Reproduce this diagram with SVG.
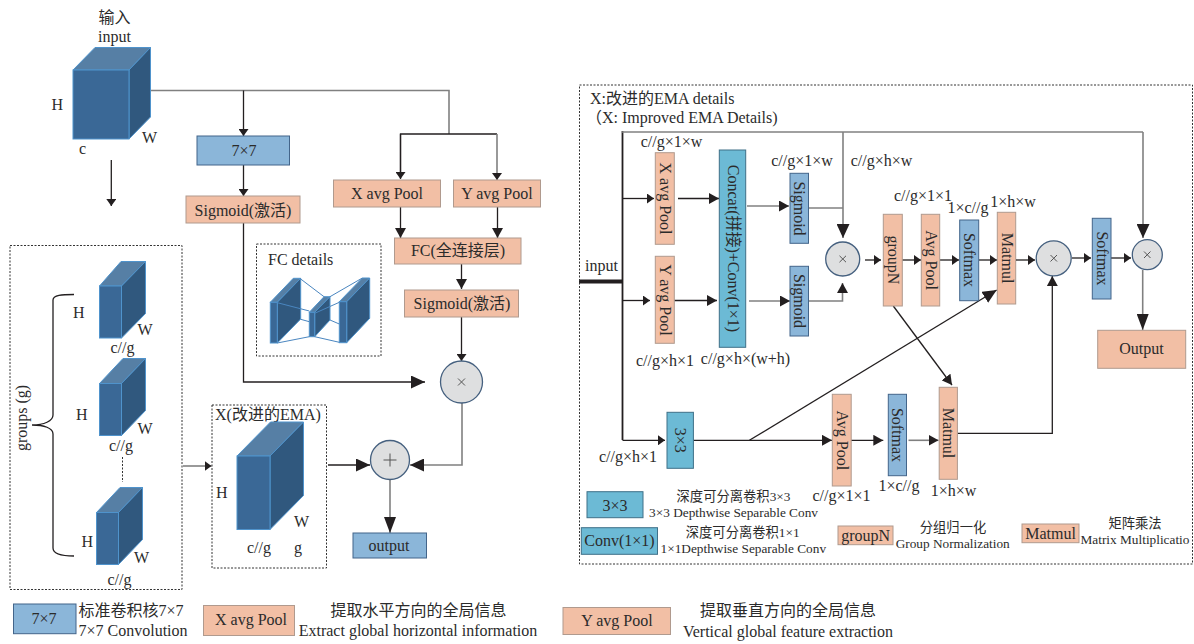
<svg xmlns="http://www.w3.org/2000/svg" width="1194" height="644" viewBox="0 0 1194 644">
<style>
text{font-family:"Liberation Serif","Noto Sans CJK SC",serif;font-size:16px;fill:#2b2b2b}
.m{text-anchor:middle}
.s{font-size:13.3px}
.l{fill:none;stroke:#231f20;stroke-width:1.3}
.g{fill:none;stroke:#808080;stroke-width:1.6}
.t{fill:none;stroke:#231f20;stroke-width:1.8}
.d{fill:none;stroke:#333;stroke-width:1;stroke-dasharray:2 1.5}
.blue{fill:#8bb6d9;stroke:#43658a;stroke-width:1}
.sal{fill:#f2bfa5;stroke:#b09a8e;stroke-width:1}
.teal{fill:#6cbad5;stroke:#3f7088;stroke-width:1}
.circ{fill:#dedfe0;stroke:#45607f;stroke-width:1.3}
.op{fill:none;stroke:#555;stroke-width:1}
.fr{fill:#3a6896;stroke:#4f93cc;stroke-width:1}
.sd{fill:#30587e;stroke:#4f93cc;stroke-width:1}
.tp{fill:#567fa5;stroke:#4f93cc;stroke-width:1}
.fc{fill:none;stroke:#4a86c0;stroke-width:1}
.a7{marker-end:url(#a7)}.a10{marker-end:url(#a10)}.a13{marker-end:url(#a13)}.a16{marker-end:url(#a16)}
</style>
<defs>
<marker id="a7" markerUnits="userSpaceOnUse" markerWidth="7" markerHeight="10" refX="7" refY="5" orient="auto"><path d="M0 0L7 5L0 10Z" fill="#231f20"/></marker>
<marker id="a10" markerUnits="userSpaceOnUse" markerWidth="10" markerHeight="11" refX="10" refY="5.5" orient="auto"><path d="M0 0L10 5.5L0 11Z" fill="#231f20"/></marker>
<marker id="a13" markerUnits="userSpaceOnUse" markerWidth="14" markerHeight="13" refX="14" refY="6.5" orient="auto"><path d="M0 0L14 6.5L0 13Z" fill="#231f20"/></marker>
<marker id="a16" markerUnits="userSpaceOnUse" markerWidth="16" markerHeight="12" refX="16" refY="6" orient="auto"><path d="M0 0L16 6L0 12Z" fill="#231f20"/></marker>
</defs>

<g id="connectors">
<path class="g" d="M150 90.5H449V134"/>
<path class="l" d="M400.5 178V134H497"/>
<path class="l a7" d="M400.5 134V179"/>
<path class="g a7" d="M497 134V180"/>
<path class="l a7" d="M243.5 90.5V136"/>
<path class="l a7" d="M243.5 165V196"/>
<path class="l a7" d="M111.3 160V206"/>
<path class="l a13" d="M243.5 223V382H425"/>
<path class="l a10" d="M400.5 207V238"/>
<path class="l a10" d="M497.5 207V238"/>
<path class="l a10" d="M461.5 264V289"/>
<path class="l a7" d="M461.5 317V361"/>
<path class="g a13" d="M462 403V465H410"/>
<path class="l a13" d="M328 465H370"/>
<path class="g a16" d="M390 480V533"/>
<path class="g a7" d="M183 466H211.5"/>
<path class="d" d="M122.5 457V482"/>
<path class="l" d="M74 294.5C62 294.5 53 295 53 300V415C53 421 44 425 32 425C44 425 53 428 53 434V548C53 554 62 556 74 556"/>

<path d="M579 281.5H623" fill="none" stroke="#231f20" stroke-width="4"/>
<path class="t" d="M622.5 131V440"/>
<path class="g" d="M622 132H1143"/>
<path class="g a13" d="M1143 132V238"/>
<path class="g a13" d="M843 132V238"/>
<path class="g" d="M808.5 208H843"/>
<path class="l a7" d="M622.5 198.5H654"/>
<path class="l a10" d="M678 198.5H719"/>
<path class="l a7" d="M622.5 300.5H650"/>
<path class="l a10" d="M674 300.5H717"/>
<path class="g a10" d="M747 206H789"/>
<path class="g a10" d="M749 301H790"/>
<path class="g a10" d="M808.5 301H842.5V283"/>
<path class="l a7" d="M865 260H881"/>
<path class="l a7" d="M902 260H921"/>
<path class="l a7" d="M940 260H959"/>
<path class="l a7" d="M979 260H997"/>
<path class="l a7" d="M1016 260H1035"/>
<path class="l a7" d="M1072 258H1091"/>
<path class="l a7" d="M1111 258H1131"/>
<path class="g a16" d="M1142.7 270V330"/>
<path class="l a7" d="M622.5 440.3H665"/>
<path class="l a10" d="M693.4 440.3H832"/>
<path class="l a13" d="M749.4 440.3L996.7 290"/>
<path class="l a10" d="M851 440.3H883.3"/>
<path class="g a10" d="M908.5 440.3H938.5"/>
<path class="l a10" d="M957.4 433.3H1052.3V276"/>
<path class="l a10" d="M893.3 306L952 385"/>
</g>

<g id="input-cube">
<path class="tp" d="M73 70L95 47.500H150.500L129 70Z"/><path class="sd" d="M129 70L150.500 47.500V117L129 139Z"/><rect class="fr" x="73" y="70" width="56" height="69"/>
<text class="m" x="114.500" y="23">输入</text><text class="m" x="114.500" y="42">input</text>
<text x="51.500" y="110">H</text><text x="142" y="142.500">W</text><text class="m" x="82.500" y="154">c</text>
</g>
<g id="conv7"><rect class="blue" x="197" y="136" width="92.500" height="29"/><text class="m" x="244" y="156">7×7</text></g>
<g id="sigmoid-left"><rect class="sal" x="186" y="196" width="114" height="27"/><text class="m" x="243" y="216">Sigmoid(激活)</text></g>
<g id="xpool-left"><rect class="sal" x="333.500" y="180" width="107" height="27"/><text class="m" x="387" y="198.500">X avg Pool</text></g>
<g id="ypool-left"><rect class="sal" x="453.500" y="180" width="87" height="27"/><text class="m" x="497" y="198.500">Y avg Pool</text></g>
<g id="fc"><rect class="sal" x="394.500" y="238" width="126.500" height="26"/><text class="m" x="458" y="256">FC(全连接层)</text></g>
<g id="sigmoid-fc"><rect class="sal" x="404.500" y="290" width="114" height="27"/><text class="m" x="462" y="309">Sigmoid(激活)</text></g>
<g id="mul-left"><circle class="circ" cx="461.500" cy="382" r="21"/><path class="op" d="M458 378.500L465 385.500M465 378.500L458 385.500"/></g>
<g id="add-left"><circle class="circ" cx="390" cy="460" r="19.500"/><path class="op" d="M383.500 460H396.500M390 453.500V466.500"/></g>
<g id="output-left"><rect class="blue" x="353" y="533" width="73.500" height="25"/><text class="m" x="389" y="551">output</text></g>

<g id="fc-details">
<rect class="d" x="256.500" y="244" width="124.500" height="112"/>
<text x="268" y="265">FC details</text>
<path class="tp" d="M270.300 302.300L293.300 278.300H300.700L277.300 302.300Z"/><path class="sd" d="M277.300 302.300L300.700 278.300V319L277.300 343Z"/><rect class="fr" x="270.300" y="302.300" width="7" height="40.700"/>
<path class="tp" d="M309.300 312.300L324 296.700H330L314.700 312.300Z"/><path class="sd" d="M314.700 312.300L330 296.700V320L314.700 336.700Z"/><rect class="fr" x="309.300" y="312.300" width="5.400" height="24.400"/>
<path class="tp" d="M339.300 301.700L362.300 278H369.700L346.700 301.700Z"/><path class="sd" d="M346.700 301.700L369.700 278V318.300L346.700 342.700Z"/><rect class="fr" x="339.300" y="301.700" width="7.400" height="41"/>
<path class="fc" d="M300.700 279L324 296.700M277.300 302.700L309.300 311M277.300 343L309.300 336.700M300.700 319.300L309.300 321.700M330 296.700L362.300 278M314.700 313.300L339.300 302.300M314.700 336.700L339.300 342.300M330 320L339.300 324"/>
</g>

<g id="groups">
<rect class="d" x="10" y="245.500" width="172" height="344"/>
<text class="m" transform="rotate(-90 27 418)" x="27" y="418">groups (g)</text>
<path class="tp" d="M99.500 286L121 261.500H145.500L121.500 286Z"/><path class="sd" d="M121.500 286L145.500 261.500V313.500L121.500 338Z"/><rect class="fr" x="99.500" y="286" width="22" height="52"/>
<text x="73" y="318">H</text><text x="137.500" y="334.500">W</text><text class="m" x="122.500" y="352.500">c//g</text>
<path class="tp" d="M99.500 383.500L123 358.500H145.500L121.500 383.500Z"/><path class="sd" d="M121.500 383.500L145.500 358.500V410.500L121.500 435.500Z"/><rect class="fr" x="99.500" y="383.500" width="22" height="52"/>
<text x="76" y="420">H</text><text x="137.500" y="433.500">W</text><text class="m" x="121" y="451">c//g</text>
<path class="tp" d="M96.500 512.500L120 487.500H142.500L118.500 512.500Z"/><path class="sd" d="M118.500 512.500L142.500 487.500V539.500L118.500 564.500Z"/><rect class="fr" x="96.500" y="512.500" width="22" height="52"/>
<text x="81.500" y="546.500">H</text><text x="134" y="562.500">W</text><text class="m" x="119.500" y="584.500">c//g</text>
</g>

<g id="x-ema">
<rect class="d" x="212" y="405" width="114.500" height="163"/>
<text x="215" y="419.500">X(改进的EMA)</text>
<path class="tp" d="M237 456L270.500 422H303.500L270 456Z"/><path class="sd" d="M270 456L303.500 422V495.500L270 529.500Z"/><rect class="fr" x="237" y="456" width="33" height="73.500"/>
<text x="216" y="497.500">H</text><text x="294" y="526.500">W</text><text class="m" x="259" y="552.500">c//g</text><text class="m" x="298" y="552.500">g</text>
</g>

<g id="legend-bottom">
<rect class="blue" x="13.500" y="604" width="62.500" height="29.700"/><text class="m" x="44" y="624">7×7</text>
<text x="78.500" y="616">标准卷积核7×7</text><text x="78.500" y="636">7×7 Convolution</text>
<rect class="sal" x="203.500" y="605.500" width="91" height="30"/><text class="m" x="251" y="625">X avg Pool</text>
<text class="m" x="418.500" y="616">提取水平方向的全局信息</text><text class="m" x="418" y="636">Extract global horizontal information</text>
<rect class="sal" x="563" y="607.500" width="107.500" height="27"/><text class="m" x="617" y="626">Y avg Pool</text>
<text class="m" x="788" y="616">提取垂直方向的全局信息</text><text class="m" x="788" y="637">Vertical global feature extraction</text>
</g>

<g id="ema-frame">
<rect class="d" x="579.500" y="85" width="613" height="479"/>
<text x="590" y="104">X:改进的EMA details</text>
<text x="586" y="123">（X: Improved EMA Details)</text>
<text x="585" y="271">input</text>
</g>

<g id="xpool"><rect class="sal" x="655.300" y="152.700" width="19" height="91.600"/><text class="m" transform="rotate(90 664.800 198.500)" x="664.800" y="203.500">X avg Pool</text></g>
<g id="ypool"><rect class="sal" x="655.300" y="256.300" width="19" height="87"/><text class="m" transform="rotate(90 664.800 300)" x="664.800" y="305">Y avg Pool</text></g>
<g id="concat"><rect class="teal" x="719.300" y="150" width="26.400" height="197.300"/><text class="m" transform="rotate(90 732.500 248.500)" x="732.500" y="253.500">Concat(拼接)+Conv(1×1)</text></g>
<g id="sig-up"><rect class="blue" x="790" y="173.300" width="18.500" height="70"/><text class="m" transform="rotate(90 799.200 208.500)" x="799.200" y="213.500">Sigmoid</text></g>
<g id="sig-down"><rect class="blue" x="790" y="266.300" width="18.500" height="69.700"/><text class="m" transform="rotate(90 799.200 301)" x="799.200" y="306">Sigmoid</text></g>
<g id="mul-1"><circle class="circ" cx="842.700" cy="259" r="17"/><path class="op" d="M839.500 255.800L846 262.200M846 255.800L839.500 262.200"/></g>
<g id="groupn"><rect class="sal" x="883.300" y="214.300" width="19" height="91.700"/><text class="m" transform="rotate(90 892.800 260)" x="892.800" y="265">groupN</text></g>
<g id="avg-1"><rect class="sal" x="921.300" y="214.300" width="18.400" height="91.700"/><text class="m" transform="rotate(90 930.500 260)" x="930.500" y="265">Avg Pool</text></g>
<g id="softmax-1"><rect class="blue" x="959.700" y="220" width="19" height="80.700"/><text class="m" transform="rotate(90 969.200 260)" x="969.200" y="265">Softmax</text></g>
<g id="matmul-1"><rect class="sal" x="997.300" y="212.300" width="18.400" height="91.700"/><text class="m" transform="rotate(90 1006.500 258)" x="1006.500" y="263">Matmul</text></g>
<g id="mul-2"><circle class="circ" cx="1053.700" cy="258.300" r="17.500"/><path class="op" d="M1050.500 255L1057 261.500M1057 255L1050.500 261.500"/></g>
<g id="softmax-2"><rect class="blue" x="1092.300" y="218.300" width="18.700" height="80.700"/><text class="m" transform="rotate(90 1101.600 258.500)" x="1101.600" y="263.500">Softmax</text></g>
<g id="mul-3"><circle class="circ" cx="1147.300" cy="254.700" r="15"/><path class="op" d="M1144 251.500L1150.500 258M1150.500 251.500L1144 258"/></g>
<g id="output-right"><rect class="sal" x="1097.700" y="330.300" width="88" height="38" stroke="#8a6a5a"/><text class="m" x="1141.500" y="354">Output</text></g>
<g id="conv3"><rect class="teal" x="667" y="412.300" width="26.400" height="56"/><text class="m" transform="rotate(90 680.200 440.300)" x="680.200" y="445.300">3×3</text></g>
<g id="avg-2"><rect class="sal" x="832.300" y="394.300" width="18.900" height="91.700"/><text class="m" transform="rotate(90 841.700 440.300)" x="841.700" y="445.300">Avg Pool</text></g>
<g id="softmax-3"><rect class="blue" x="888.300" y="394.300" width="18.200" height="81.400"/><text class="m" transform="rotate(90 897.400 435)" x="897.400" y="440">Softmax</text></g>
<g id="matmul-2"><rect class="sal" x="939.200" y="387.300" width="18.200" height="92"/><text class="m" transform="rotate(90 948.300 433)" x="948.300" y="438">Matmul</text></g>

<g id="dim-labels">
<text class="m" x="671.500" y="146.700">c//g×1×w</text>
<text class="m" x="802" y="165.700">c//g×1×w</text>
<text class="m" x="881.500" y="165.700">c//g×h×w</text>
<text class="m" x="923" y="200.700">c//g×1×1</text>
<text class="m" x="968" y="213">1×c//g</text>
<text class="m" x="1013" y="207">1×h×w</text>
<text class="m" x="665" y="366">c//g×h×1</text>
<text class="m" x="745.500" y="364">c//g×h×(w+h)</text>
<text class="m" x="628" y="461.700">c//g×h×1</text>
<text class="m" x="841.500" y="500.700">c//g×1×1</text>
<text class="m" x="899" y="491">1×c//g</text>
<text class="m" x="953.500" y="495.700">1×h×w</text>
</g>

<g id="legend-right">
<rect class="teal" x="587" y="491.700" width="56" height="26"/><text class="m" x="615" y="510.500">3×3</text>
<text class="m s" x="733.500" y="500.700">深度可分离卷积3×3</text><text class="m s" x="733.500" y="516.700">3×3 Depthwise Separable Conv</text>
<rect class="teal" x="581.300" y="527.700" width="76.200" height="26.600"/><text class="m" x="619.400" y="546">Conv(1×1)</text>
<text class="m s" x="742.700" y="536.700">深度可分离卷积1×1</text><text class="m s" x="743.300" y="552.700">1×1Depthwise Separable Conv</text>
<rect class="sal" x="838" y="526" width="55" height="18.700"/><text class="m" x="865.600" y="541">groupN</text>
<text class="m s" x="953" y="532">分组归一化</text><text class="m s" x="952.700" y="547.700">Group Normalization</text>
<rect class="sal" x="1022" y="524" width="57" height="18.700"/><text class="m" x="1050.500" y="539">Matmul</text>
<text class="m s" x="1135" y="528">矩阵乘法</text><text class="m s" x="1135" y="543.700">Matrix Multiplicatio</text>
</g>
</svg>
